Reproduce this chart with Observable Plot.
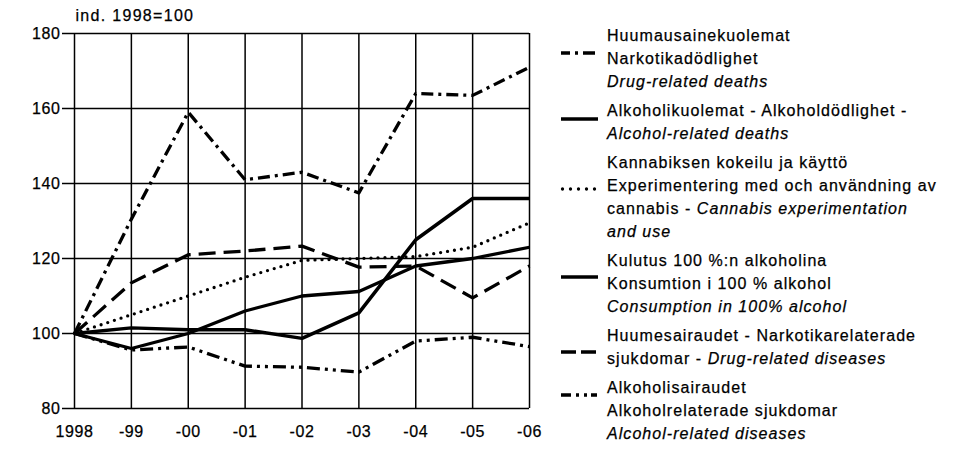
<!DOCTYPE html>
<html>
<head>
<meta charset="utf-8">
<script src="https://cdn.jsdelivr.net/npm/d3@7"></script>
<script src="https://cdn.jsdelivr.net/npm/@observablehq/plot@0.6"></script>
<style>
  html, body { margin: 0; padding: 0; background: white; }
  #wrap { position: relative; width: 964px; height: 456px; overflow: hidden; font-family: "Liberation Sans", Arial, sans-serif; color: black; }
  #frame { position: absolute; left: 5px; top: 0; width: 0; height: 456px; border-left: 2px solid black; }
  #chart { position: absolute; left: 0; top: 0; }
  #chart svg text { letter-spacing: 0.6px; stroke: black; stroke-width: 0.25px; }
  #chart svg g[aria-label="text"] text { letter-spacing: 1.3px; }
  #legend { position: absolute; left: 0; top: 0; width: 964px; height: 456px; pointer-events: none; }
  .entry { position: absolute; left: 558px; }
  .line { position: absolute; left: 49px; white-space: nowrap; font-size: 16px; letter-spacing: 1.05px; line-height: 23px; height: 23px; -webkit-text-stroke: 0.25px black; }
  .sw { position: absolute; left: 0; }
</style>
</head>
<body>
<div id="wrap">
  <div id="frame"></div>
  <div id="chart"></div>
  <div id="legend"></div>
</div>
<script>
// ---- data ----
const years = [1998, 1999, 2000, 2001, 2002, 2003, 2004, 2005, 2006];
const xLabels = ["1998", "-99", "-00", "-01", "-02", "-03", "-04", "-05", "-06"];
const yTicks = [80, 100, 120, 140, 160, 180];
const yLabel = "ind. 1998=100";

const drugDeaths      = [100, 130.5, 159, 141, 143, 137.5, 164, 163.5, 171];
const alcoholDeaths   = [100, 101.5, 101, 101, 98.7, 105.5, 125, 136, 136];
const cannabis        = [100, 105, 110, 115, 119.5, 120, 120.5, 123, 129.5];
const consumption     = [100, 96, 100, 106, 110, 111.2, 118, 120, 123];
const drugDiseases    = [100, 113.5, 121, 122, 123.3, 117.7, 118, 109.5, 118];
const alcoholDiseases = [100, 95.6, 96.4, 91.3, 91, 89.7, 98, 99, 96.5];

const legendDrugDeaths = [[["Huumausainekuolemat", false]], [["Narkotikadödlighet", false]], [["Drug-related deaths", true]]];
const legendAlcoholDeaths = [[["Alkoholikuolemat - Alkoholdödlighet -", false]], [["Alcohol-related deaths", true]]];
const legendCannabis = [[["Kannabiksen kokeilu ja käyttö", false]], [["Experimentering med och användning av", false]], [["cannabis - ", false], ["Cannabis experimentation", true]], [["and use", true]]];
const legendConsumption = [[["Kulutus 100 %:n alkoholina", false]], [["Konsumtion i 100 % alkohol", false]], [["Consumption in 100% alcohol", true]]];
const legendDrugDiseases = [[["Huumesairaudet - Narkotikarelaterade", false]], [["sjukdomar - ", false], ["Drug-related diseases", true]]];
const legendAlcoholDiseases = [[["Alkoholisairaudet", false]], [["Alkoholrelaterade sjukdomar", false]], [["Alcohol-related diseases", true]]];

// ---- styles per series ----
const series = [
  {values: drugDeaths, legend: legendDrugDeaths, dash: "12,5,3,5", width: 3.3, cap: "butt", swDash: "9,5,3,5,12", swY: 18},
  {values: alcoholDeaths, legend: legendAlcoholDeaths, dash: null, width: 3.5, cap: "butt", swDash: null, swY: 9},
  {values: cannabis, legend: legendCannabis, dash: "0,7", width: 3.3, cap: "round", swDash: "0,8", swY: 27},
  {values: consumption, legend: legendConsumption, dash: null, width: 3.3, cap: "butt", swDash: null, swY: 17},
  {values: drugDiseases, legend: legendDrugDiseases, dash: "17,8", width: 3.3, cap: "butt", swDash: "15,5", swY: 17},
  {values: alcoholDiseases, legend: legendAlcoholDiseases, dash: "13,5,3,5,3,5", width: 3.3, cap: "butt", swDash: "10,5,3,5,3,4,6", swY: 8}
];

const lineMarks = series.map(s => {
  const rows = years.map((y, i) => ({year: y, value: s.values[i]}));
  const opts = {x: "year", y: "value", stroke: "black", strokeWidth: s.width, strokeLinecap: s.cap, strokeLinejoin: "round"};
  if (s.dash) opts.strokeDasharray = s.dash;
  return Plot.line(rows, opts);
});

const chart = Plot.plot({
  width: 545,
  height: 456,
  marginLeft: 74,
  marginRight: 16,
  marginTop: 33,
  marginBottom: 48,
  x: {domain: [1998, 2006]},
  y: {domain: [80, 180]},
  style: {fontFamily: "'Liberation Sans', Arial, sans-serif", fontSize: "16px", color: "black", background: "white", overflow: "visible"},
  marks: [
    Plot.gridX(years, {stroke: "black", strokeOpacity: 1, strokeWidth: 1.5}),
    Plot.gridY(yTicks, {stroke: "black", strokeOpacity: 1, strokeWidth: 1.5}),
    Plot.axisY(yTicks, {tickSize: 12, tickPadding: 2, strokeWidth: 1.5, fontSize: 16, label: null}),
    Plot.axisX(years, {tickSize: 0, tickPadding: 17, fontSize: 16, label: null, tickFormat: d => xLabels[years.indexOf(d)]}),
    ...lineMarks,
    Plot.text([yLabel], {frameAnchor: "top-left", dx: 1, dy: -18, textAnchor: "start", lineAnchor: "middle", fontSize: 16})
  ]
});
document.getElementById("chart").appendChild(chart);

// ---- legend ----
const legendEl = document.getElementById("legend");
const lineH = 23, entryGap = 6;
let legendTop = 24;
series.forEach(s => {
  const e = document.createElement("div");
  e.className = "entry";
  e.style.top = legendTop + "px";
  s.legend.forEach((ln, li) => {
    const d = document.createElement("div");
    d.className = "line";
    d.style.top = (li * lineH) + "px";
    ln.forEach(([t, it]) => {
      const sp = document.createElement("span");
      sp.textContent = t;
      if (it) sp.style.fontStyle = "italic";
      d.appendChild(sp);
    });
    e.appendChild(d);
  });
  const ns = "http://www.w3.org/2000/svg";
  const svg = document.createElementNS(ns, "svg");
  svg.setAttribute("class", "sw");
  svg.setAttribute("width", 42);
  svg.setAttribute("height", 10);
  svg.style.top = (s.swY + 6) + "px";
  const l = document.createElementNS(ns, "line");
  l.setAttribute("x1", s.cap === "round" ? 4.5 : 3);
  l.setAttribute("x2", s.cap === "round" ? 37 : 40);
  l.setAttribute("y1", 5);
  l.setAttribute("y2", 5);
  l.setAttribute("stroke", "black");
  l.setAttribute("stroke-width", s.width);
  l.setAttribute("stroke-linecap", s.cap);
  if (s.swDash) l.setAttribute("stroke-dasharray", s.swDash);
  svg.appendChild(l);
  e.appendChild(svg);
  legendEl.appendChild(e);
  legendTop += s.legend.length * lineH + entryGap;
});
</script>
</body>
</html>
